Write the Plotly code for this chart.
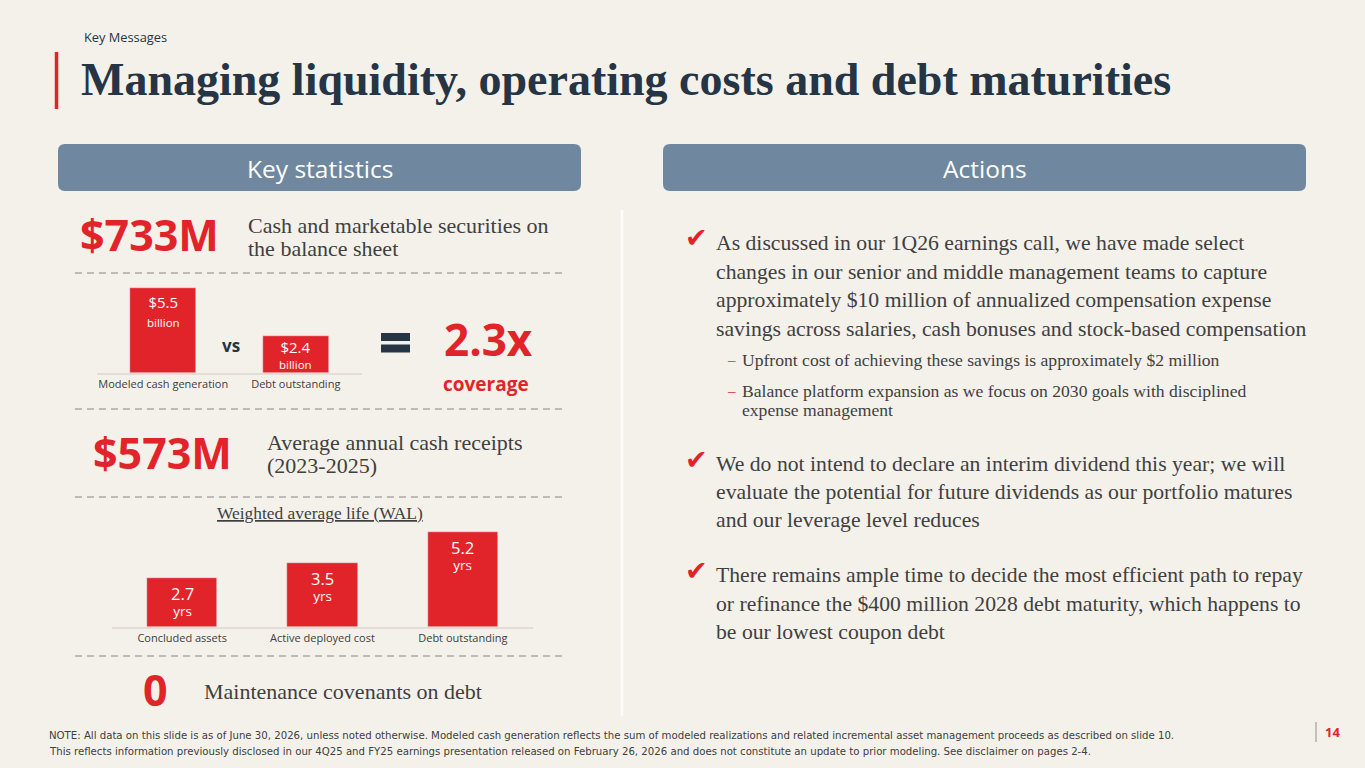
import plotly.graph_objects as go

W, H = 1365, 768

# ---- data ----
coverage_cats = ["Modeled cash generation", "Debt outstanding"]
coverage_vals = [5.5, 2.4]
coverage_lbls = ["$5.5", "$2.4"]

wal_cats = ["Concluded assets", "Active deployed cost", "Debt outstanding"]
wal_vals = [2.7, 3.5, 5.2]

cash_stat = "$733M"
receipts_stat = "$573M"
covenants_stat = "0"
coverage_ratio = "2.3x"

bullet1 = ["As discussed in our 1Q26 earnings call, we have made select",
           "changes in our senior and middle management teams to capture",
           "approximately $10 million of annualized compensation expense",
           "savings across salaries, cash bonuses and stock-based compensation"]
sub1 = ["Upfront cost of achieving these savings is approximately $2 million",
        "Balance platform expansion as we focus on 2030 goals with disciplined",
        "expense management"]
bullet2 = ["We do not intend to declare an interim dividend this year; we will",
           "evaluate the potential for future dividends as our portfolio matures",
           "and our leverage level reduces"]
bullet3 = ["There remains ample time to decide the most efficient path to repay",
           "or refinance the $400 million 2028 debt maturity, which happens to",
           "be our lowest coupon debt"]
notes = ["NOTE: All data on this slide is as of June 30, 2026, unless noted otherwise. Modeled cash generation reflects the sum of modeled realizations and related incremental asset management proceeds as described on slide 10.",
         "This reflects information previously disclosed in our 4Q25 and FY25 earnings presentation released on February 26, 2026 and does not constitute an update to prior modeling. See disclaimer on pages 2-4."]

# ---- styles ----
BG = "#F4F1EA"
RED = "#E1242A"
NAVY = "#253545"
TXT = "#404040"
HEAD = "#6F88A0"
SANS = "Open Sans"
COND = "DejaVu Sans Condensed"
SERIF = "Liberation Serif"


def px(x):
    return x / W


def py(y):
    return 1 - y / H


fig = go.Figure()

# bar chart 1 (coverage)
fig.add_trace(go.Bar(x=coverage_cats, y=coverage_vals, marker_color=RED, width=0.5,
                     xaxis="x", yaxis="y", hoverinfo="skip"))
# bar chart 2 (WAL)
fig.add_trace(go.Bar(x=wal_cats, y=wal_vals, marker_color=RED, width=0.5,
                     xaxis="x2", yaxis="y2", hoverinfo="skip"))

ann = []
shapes = []


def text(x, y, s, size, color=TXT, family=SERIF, xanchor="left", bold=False, yanchor="middle"):
    if bold:
        s = "<b>" + s + "</b>"
    ann.append(dict(x=px(x), y=py(y), xref="paper", yref="paper", text=s, showarrow=False,
                    xanchor=xanchor, yanchor=yanchor,
                    font=dict(size=size, color=color, family=family)))


def hline(y, x0=75, x1=567):
    shapes.append(dict(type="line", xref="paper", yref="paper", x0=px(x0), x1=px(x1),
                       y0=py(y), y1=py(y), line=dict(color="#A9A9A9", width=1.5, dash="7px,5px")))


def rrect(x0, y0, x1, y1, r=7):
    rx, ry = r / W, r / H
    X0, X1, Y0, Y1 = px(x0), px(x1), py(y1), py(y0)
    path = (f"M {X0+rx},{Y0} L {X1-rx},{Y0} Q {X1},{Y0} {X1},{Y0+ry} "
            f"L {X1},{Y1-ry} Q {X1},{Y1} {X1-rx},{Y1} L {X0+rx},{Y1} "
            f"Q {X0},{Y1} {X0},{Y1-ry} L {X0},{Y0+ry} Q {X0},{Y0} {X0+rx},{Y0} Z")
    shapes.append(dict(type="path", xref="paper", yref="paper", path=path,
                       fillcolor=HEAD, line=dict(width=0)))


def bar_label(axis, cat, val, top, unit, s1, s2, base, shift):
    # value + unit as one two-line label hung from the top of each bar
    s = f"<span style='font-size:{s1}px'>{top}</span><br><span style='font-size:{s2}px'>{unit}</span>"
    ann.append(dict(x=cat, y=val, xref="x" + axis, yref="y" + axis, yanchor="top",
                    yshift=-shift, showarrow=False, text=s, borderpad=0,
                    font=dict(size=base, color="white", family=SANS)))


# header
text(82, 37, "Key Messages", 12.8, NAVY, SANS)
shapes.append(dict(type="line", xref="paper", yref="paper", x0=px(56.5), x1=px(56.5),
                   y0=py(52), y1=py(109), line=dict(color=RED, width=3.5)))
text(79, 80, "Managing liquidity, operating costs and debt maturities", 46, NAVY, SERIF, bold=True)

rrect(58, 144, 581, 191)
rrect(663, 144, 1306, 191)
text(320, 168, "Key statistics", 24.5, "white", SANS, xanchor="center")
text(985, 168, "Actions", 24.5, "white", SANS, xanchor="center")

# divider
shapes.append(dict(type="line", xref="paper", yref="paper", x0=px(622), x1=px(622),
                   y0=py(210), y1=py(716), line=dict(color="#FDFCFA", width=2.5)))

# left panel
text(78, 234, cash_stat, 43, RED, SANS, bold=True)
text(246, 225, "Cash and marketable securities on", 22, TXT)
text(246, 248, "the balance sheet", 22, TXT)
hline(273)

for c, v, l in zip(coverage_cats, coverage_vals, coverage_lbls):
    if v < 3:
        bar_label("", c, v, l, "billion", 15, 11.5, 12, 0)
    else:
        bar_label("", c, v, l, "billion", 15, 11.5, 14.5, 3)
text(231, 345, "vs", 17, NAVY, SANS, xanchor="center", bold=True)
for y0, y1 in [(333, 341), (344.5, 352.5)]:
    shapes.append(dict(type="rect", xref="paper", yref="paper", x0=px(381), x1=px(410),
                       y0=py(y1), y1=py(y0), fillcolor=NAVY, line=dict(width=0)))
text(488, 339, coverage_ratio, 44, RED, SANS, xanchor="center", bold=True)
text(486, 384, "coverage", 19, RED, SANS, xanchor="center", bold=True)
hline(409)

text(91, 452, receipts_stat, 43, RED, SANS, bold=True)
text(265, 442, "Average annual cash receipts", 22, TXT)
text(265, 465, "(2023-2025)", 22, TXT)
hline(497)

text(320, 513, "<u>Weighted average life (WAL)</u>", 17.4, TXT, xanchor="center")
for c, v in zip(wal_cats, wal_vals):
    bar_label("2", c, v, f"{v}", "yrs", 16.5, 13.5, 12.5, 3)
hline(656)

text(155, 689, covenants_stat, 43, RED, SANS, xanchor="center", bold=True)
text(202, 691, "Maintenance covenants on debt", 22, TXT)


# right panel
def bullet(y_start, lines, step=28.6):
    text(696, y_start - 5, "✔", 27, RED, "DejaVu Sans", xanchor="center")
    for i, s in enumerate(lines):
        text(714, y_start + i * step, s, 21.7, TXT)


bullet(243, bullet1)
for y, s, dash in [(360, sub1[0], True), (391, sub1[1], True), (410, sub1[2], False)]:
    if dash:
        text(731, y, "–", 15, RED, SERIF, xanchor="center")
    text(740, y, s, 17.6, TXT)
bullet(464, bullet2, 28)
bullet(575, bullet3, 28.5)

# footer
text(47, 735, notes[0], 11.3, TXT, COND)
text(47, 751, notes[1], 11.3, TXT, COND)
shapes.append(dict(type="line", xref="paper", yref="paper", x0=px(1316), x1=px(1316),
                   y0=py(722), y1=py(742), line=dict(color="#909090", width=1)))
text(1323, 732, "14", 13, RED, SANS, bold=True)

axis_common = dict(type="category", showgrid=False, zeroline=False, ticks="",
                   showline=True, linecolor="#E2DED6", linewidth=1.5,
                   tickfont=dict(size=11, color=TXT, family=SANS), fixedrange=True)
yaxis_common = dict(showgrid=False, zeroline=False, showticklabels=False, showline=False,
                    fixedrange=True)

fig.update_layout(
    width=W, height=H, margin=dict(l=0, r=0, t=0, b=0),
    paper_bgcolor=BG, plot_bgcolor="rgba(0,0,0,0)", showlegend=False, bargap=0,
    xaxis=dict(axis_common, domain=[px(97), px(362)], range=[-0.5, 1.5], anchor="y"),
    yaxis=dict(yaxis_common, domain=[py(373), py(273)], range=[0, 100 / 15.5], anchor="x"),
    xaxis2=dict(axis_common, domain=[px(112), px(533)], range=[-0.5, 2.5], anchor="y2"),
    yaxis2=dict(yaxis_common, domain=[py(627), py(527)], range=[0, 100 / 18.3], anchor="x2"),
    annotations=ann, shapes=shapes,
)

fig.write_html("out.html", config={"displayModeBar": False},
               post_script="document.body.style.margin='0';document.body.style.overflow='hidden';")
